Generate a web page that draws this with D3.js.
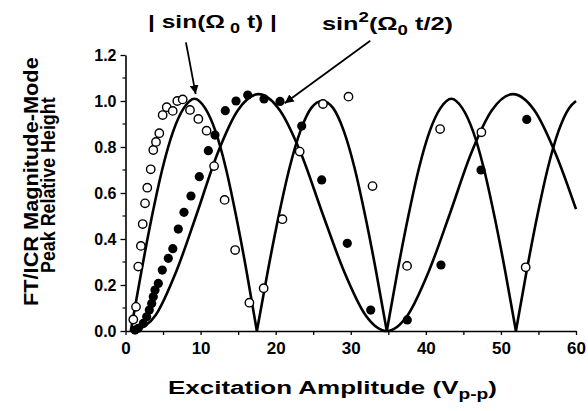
<!DOCTYPE html>
<html>
<head>
<meta charset="utf-8">
<script src="https://cdn.jsdelivr.net/npm/d3@7"></script>
<style>
  body { margin: 0; background: #fff; }
  svg text { font-family: "Liberation Sans", Arial, Helvetica, sans-serif; font-weight: bold; fill: #000; }
</style>
</head>
<body>
<div id="vis"></div>
<script>
// open circles
const openX = [1.04, 1.4, 1.7, 2.05, 2.29, 2.6, 2.9, 3.36, 3.7, 4.06, 4.5, 4.95, 5.49, 6.29, 6.9, 7.62, 8.59, 9.7, 10.8, 11.8, 13.2, 14.6, 16.5, 18.4, 20.9, 23.2, 26.3, 29.7, 32.9, 37.5, 41.9, 47.4, 53.3];
const openY = [0.05, 0.105, 0.28, 0.37, 0.465, 0.555, 0.623, 0.703, 0.787, 0.822, 0.86, 0.939, 0.973, 0.957, 1.0, 1.007, 0.961, 0.922, 0.871, 0.717, 0.57, 0.352, 0.123, 0.186, 0.486, 0.78, 0.987, 1.019, 0.63, 0.283, 0.878, 0.864, 0.277];

// filled circles
const fillX = [1.27, 1.7, 2.37, 2.82, 3.17, 3.49, 3.7, 3.93, 4.37, 4.9, 5.7, 6.3, 7.03, 7.79, 8.72, 9.83, 11.03, 11.92, 13.29, 14.72, 16.28, 18.45, 20.58, 23.47, 26.13, 29.54, 32.66, 37.53, 42.02, 47.35, 53.44];
const fillY = [0.004, 0.012, 0.033, 0.062, 0.091, 0.12, 0.149, 0.178, 0.207, 0.265, 0.316, 0.358, 0.443, 0.516, 0.587, 0.671, 0.784, 0.852, 0.958, 1.0, 1.026, 1.009, 0.998, 0.891, 0.657, 0.381, 0.091, 0.048, 0.287, 0.70, 0.92];

// |sin(W0 t)| curve, one list per arch
const sinArches = [
  [[0.7, 0], [2.12, 0.26], [3.53, 0.5], [4.95, 0.71], [6.37, 0.87], [7.78, 0.97], [9.2, 1.01], [10.58, 0.97], [11.97, 0.87], [13.35, 0.71], [14.73, 0.5], [16.12, 0.26], [17.5, 0]],
  [[17.5, 0], [18.95, 0.26], [20.4, 0.5], [21.85, 0.71], [23.3, 0.87], [24.75, 0.97], [26.2, 1.0], [27.63, 0.97], [29.07, 0.87], [30.5, 0.71], [31.93, 0.5], [33.37, 0.26], [34.8, 0]],
  [[34.8, 0], [36.23, 0.26], [37.67, 0.5], [39.1, 0.71], [40.53, 0.87], [41.97, 0.97], [43.4, 1.01], [44.83, 0.97], [46.27, 0.87], [47.7, 0.71], [49.13, 0.5], [50.57, 0.26], [52.0, 0]],
  [[52.0, 0], [53.42, 0.26], [54.84, 0.5], [56.26, 0.71], [57.68, 0.87], [59.1, 0.97], [60, 1.0]]
];

// sin^2(W0 t/2) curve
const sqX = [1.3, 4.03, 6.77, 9.5, 12.23, 14.97, 17.7, 20.55, 23.4, 26.25, 29.1, 31.95, 34.8, 37.6, 40.4, 43.2, 46.0, 48.8, 51.6, 54.45, 57.3, 60];
const sqY = [0, 0.07, 0.26, 0.51, 0.77, 0.96, 1.03, 0.96, 0.77, 0.51, 0.26, 0.07, 0, 0.07, 0.26, 0.51, 0.77, 0.96, 1.03, 0.96, 0.77, 0.53];

const xTicks = d3.range(0, 61, 5);
const xLabels = [0, 10, 20, 30, 40, 50, 60];
const yTicks = [0, 0.2, 0.4, 0.6, 0.8, 1.0, 1.2];
const yMinor = [0.1, 0.3, 0.5, 0.7, 0.9, 1.1];

const width = 588, height = 411;

const svg = d3.select("#vis").append("svg")
    .attr("width", width)
    .attr("height", height);

const x = d3.scaleLinear().domain([0, 60]).range([125.5, 576]);
const y = d3.scaleLinear().domain([0, 1.2]).range([331, 55]);

// stretch a text so it covers a given length along its direction
function fit(g, len) {
  const t = g.select("text");
  const b = t.node().getBBox();
  const s = len / b.width;
  t.attr("transform", "scale(" + s + ",1) translate(" + (-b.x) + ",0)");
}

// axes
const xAxis = svg.append("g")
    .attr("transform", "translate(0," + y(0) + ")")
    .call(d3.axisBottom(x).tickValues(xTicks).tickSize(4).tickSizeOuter(0).tickPadding(7)
        .tickFormat(d => xLabels.includes(d) ? d : ""));
xAxis.select(".domain").attr("stroke-width", 1.6);
xAxis.selectAll(".tick line").attr("stroke-width", 1.3);
xAxis.selectAll(".tick text").attr("font-size", 17);

const yAxis = svg.append("g")
    .attr("transform", "translate(" + x(0) + ",0)")
    .call(d3.axisLeft(y).tickValues(yTicks).tickSize(5).tickSizeOuter(0).tickPadding(4)
        .tickFormat(d3.format(".1f")));
yAxis.select(".domain").attr("stroke-width", 1.6);
yAxis.selectAll(".tick line").attr("stroke-width", 1.3);
yAxis.selectAll(".tick text").attr("font-size", 16);

svg.append("g").selectAll("line")
    .data(yMinor).join("line")
    .attr("x1", x(0) - 3).attr("x2", x(0))
    .attr("y1", d => y(d)).attr("y2", d => y(d))
    .attr("stroke", "#000").attr("stroke-width", 1.2);

// curves
const line = d3.line().x(d => x(d[0])).y(d => y(d[1])).curve(d3.curveMonotoneX);

svg.append("g").selectAll("path")
    .data(sinArches).join("path")
    .attr("d", line)
    .attr("fill", "none").attr("stroke", "#000").attr("stroke-width", 2.6);

svg.append("path")
    .attr("d", line(sqX.map((v, i) => [v, sqY[i]])))
    .attr("fill", "none").attr("stroke", "#000").attr("stroke-width", 2.6);

// points
svg.append("g").selectAll("circle")
    .data(openX.map((v, i) => [v, openY[i]])).join("circle")
    .attr("cx", d => x(d[0])).attr("cy", d => y(d[1])).attr("r", 4.2)
    .attr("fill", "#fff").attr("stroke", "#000").attr("stroke-width", 1.4);

svg.append("g").selectAll("circle")
    .data(fillX.map((v, i) => [v, fillY[i]])).join("circle")
    .attr("cx", d => x(d[0])).attr("cy", d => y(d[1])).attr("r", 4.6)
    .attr("fill", "#000");

// arrows
svg.append("defs").append("marker")
    .attr("id", "head").attr("viewBox", "0 0 10 10")
    .attr("refX", 10).attr("refY", 5)
    .attr("markerWidth", 5).attr("markerHeight", 5)
    .attr("markerUnits", "strokeWidth")
    .attr("orient", "auto")
  .append("path").attr("d", "M0,0L10,5L0,10z").attr("fill", "#000");

const arrows = [
  { from: [8.05, 1.255], to: [9.35, 1.03] },
  { from: [32.6, 1.262], to: [21.2, 0.99] }
];
svg.append("g").selectAll("line")
    .data(arrows).join("line")
    .attr("x1", d => x(d.from[0])).attr("y1", d => y(d.from[1]))
    .attr("x2", d => x(d.to[0])).attr("y2", d => y(d.to[1]))
    .attr("stroke", "#000").attr("stroke-width", 1.8)
    .attr("marker-end", "url(#head)");

// top labels
const lab1 = svg.append("g").attr("transform", "translate(148,28)");
const t1 = lab1.append("text").attr("font-size", 19);
t1.append("tspan").text("| sin(Ω");
t1.append("tspan").attr("font-size", 14).attr("dy", 5).text(" 0");
t1.append("tspan").attr("dy", -5).text(" t) |");
fit(lab1, 129);

const lab2 = svg.append("g").attr("transform", "translate(322,30)");
const t2 = lab2.append("text").attr("font-size", 19);
t2.append("tspan").text("sin");
t2.append("tspan").attr("font-size", 14).attr("dy", -8).text("2");
t2.append("tspan").attr("dy", 8).text("(Ω");
t2.append("tspan").attr("font-size", 14).attr("dy", 5).text("0");
t2.append("tspan").attr("dy", -5).text(" t/2)");
fit(lab2, 131);

// axis titles
const xt = svg.append("g").attr("transform", "translate(168,394)");
const t3 = xt.append("text").attr("font-size", 19);
t3.append("tspan").text("Excitation Amplitude (V");
t3.append("tspan").attr("font-size", 14).attr("dy", 5).text("p-p");
t3.append("tspan").attr("dy", -5).text(")");
fit(xt, 329);

const yt1 = svg.append("g").attr("transform", "translate(38,306) rotate(-90)");
yt1.append("text").attr("font-size", 20).text("FT/ICR Magnitude-Mode");
fit(yt1, 249);

const yt2 = svg.append("g").attr("transform", "translate(55,273) rotate(-90)");
yt2.append("text").attr("font-size", 20).text("Peak Relative Height");
fit(yt2, 176);
</script>
</body>
</html>
